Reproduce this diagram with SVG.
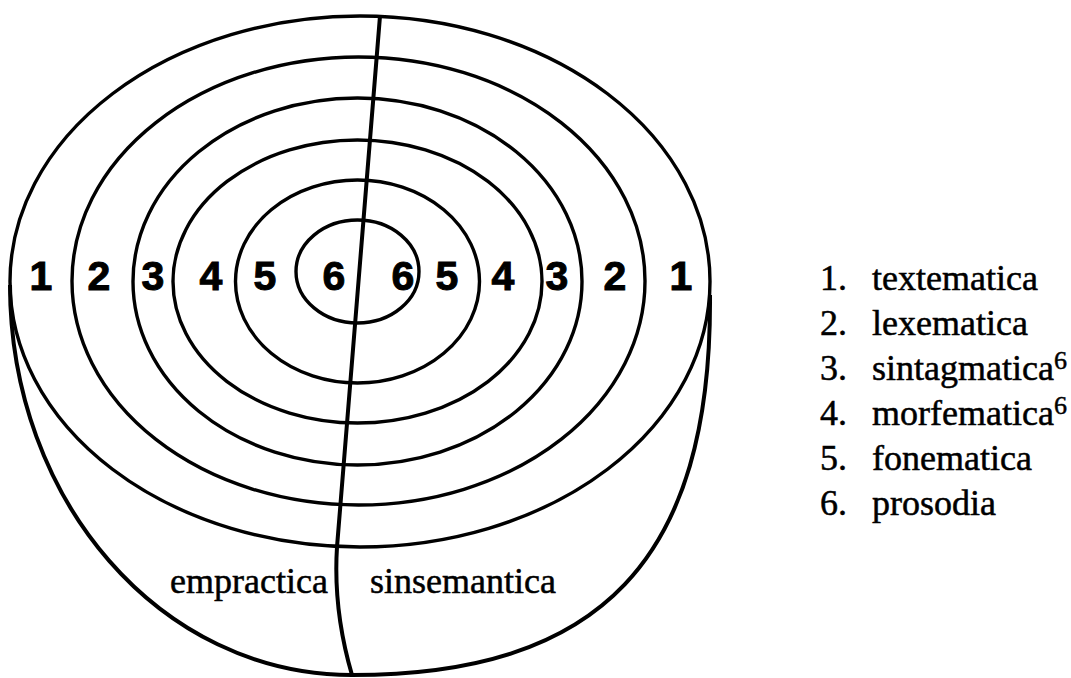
<svg xmlns="http://www.w3.org/2000/svg" width="1071" height="678" viewBox="0 0 1071 678">
<style>
.ln{fill:none;stroke:#000;stroke-width:3.4}
.th{fill:none;stroke:#000;stroke-width:4}
.num{font-family:"Liberation Sans",Arial,sans-serif;font-weight:bold;font-size:41px;text-anchor:middle;fill:#000;stroke:#000;stroke-width:1}
.ser{font-family:"Liberation Serif","Times New Roman",serif;font-size:36px;fill:#000;stroke:#000;stroke-width:0.5}
.sup{font-size:26px}
</style>
<rect width="1071" height="678" fill="#fff"/>
<g id="bowl">
<path class="th" d="M 10,285 C 10,500 160,675 352,675 C 600,675 712,560 710,295"/>
</g>
<g id="rings">
<ellipse id="ring1" class="ln" cx="360" cy="281.5" rx="350" ry="265.5"/>
<ellipse id="ring2" class="ln" cx="358.5" cy="281" rx="286.5" ry="224"/>
<ellipse id="ring3" class="ln" cx="357.5" cy="281.5" rx="224.5" ry="183.5"/>
<ellipse id="ring4" class="ln" cx="357.5" cy="281.5" rx="184.5" ry="141.5"/>
<ellipse id="ring5" class="ln" cx="357.5" cy="281.5" rx="122" ry="101.5"/>
<ellipse id="ring6" class="ln" cx="357.5" cy="271.5" rx="61.5" ry="51.5"/>
</g>
<g id="connectors">
<path class="th" d="M 380,16 L 337,547 Q 333,610 352,675"/>
</g>
<g id="ring-labels">
<text class="num" x="41" y="290">1</text>
<text class="num" x="99" y="290">2</text>
<text class="num" x="153" y="290">3</text>
<text class="num" x="211" y="290">4</text>
<text class="num" x="265" y="290">5</text>
<text class="num" x="334" y="290">6</text>
<text class="num" x="403" y="290">6</text>
<text class="num" x="447" y="290">5</text>
<text class="num" x="503" y="290">4</text>
<text class="num" x="557" y="290">3</text>
<text class="num" x="615" y="290">2</text>
<text class="num" x="681" y="290">1</text>
</g>
<g id="halves">
<text class="ser" x="328" y="593" text-anchor="end">empractica</text>
<text class="ser" x="370" y="593">sinsemantica</text>
</g>
<g id="legend">
<text class="ser" x="820" y="290">1.</text><text class="ser" x="872" y="290">textematica</text>
<text class="ser" x="820" y="335">2.</text><text class="ser" x="872" y="335">lexematica</text>
<text class="ser" x="820" y="380">3.</text><text class="ser" x="872" y="380">sintagmatica<tspan class="sup" dy="-11">6</tspan></text>
<text class="ser" x="820" y="425">4.</text><text class="ser" x="872" y="425">morfematica<tspan class="sup" dy="-11">6</tspan></text>
<text class="ser" x="820" y="470">5.</text><text class="ser" x="872" y="470">fonematica</text>
<text class="ser" x="820" y="515">6.</text><text class="ser" x="872" y="515">prosodia</text>
</g>
</svg>
